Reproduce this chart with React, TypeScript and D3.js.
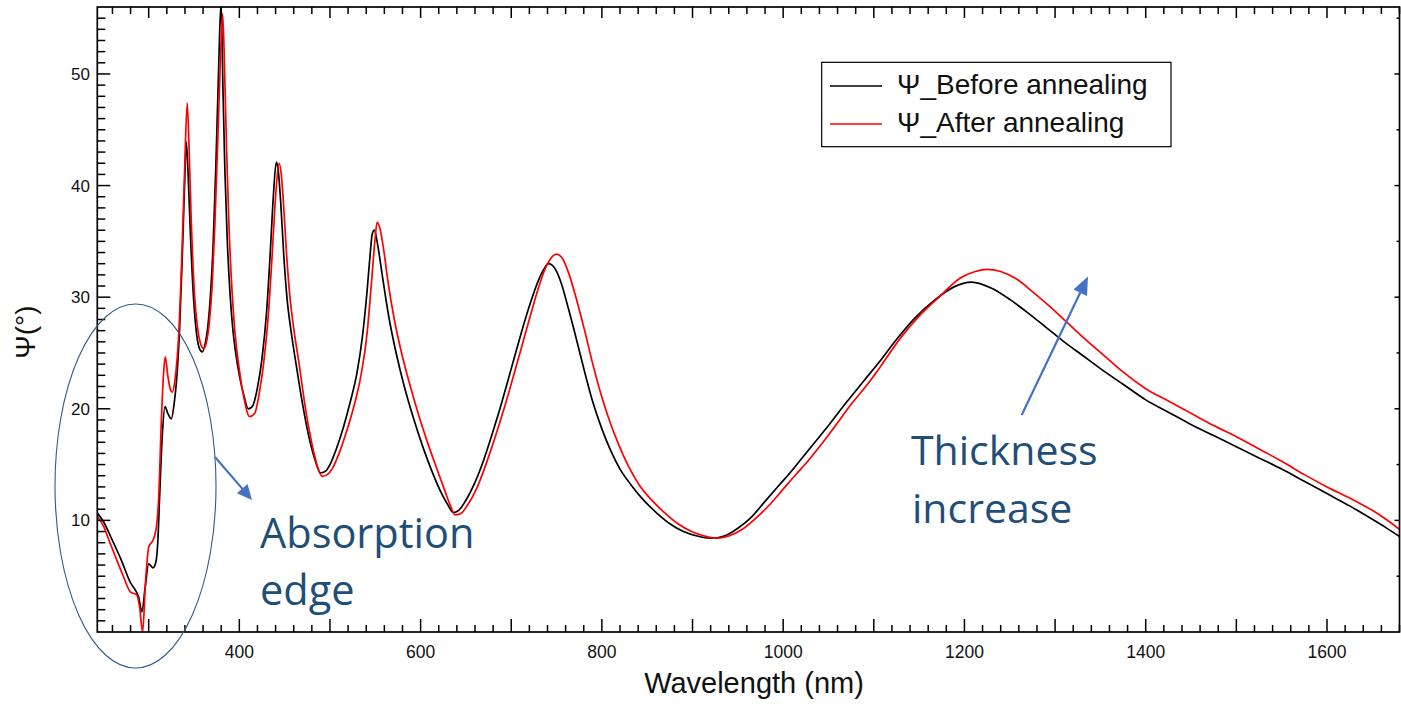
import React from 'react';
import * as d3 from 'd3';

const W = 1401;
const H = 706;

// Ψ (degrees) versus wavelength (nm), film before annealing
const beforeWavelength = [
  243, 250, 260, 270, 280, 285, 289, 292.5, 296, 300, 304.7, 308, 310, 312, 315, 318, 321, 325, 328, 331,
  334, 337, 339.5, 341.5, 343.5, 346, 349.5, 353, 356, 359, 362, 365, 368, 371, 374, 377, 379.8, 382, 384,
  386.5, 390, 393, 396, 400, 405, 410, 415, 420, 425, 430, 434, 437.5, 440.8, 443, 445.5, 449, 452.5, 457,
  463, 470, 477, 484, 489.5, 495, 500, 507, 515, 522, 530, 536, 541, 544.5, 546.5, 549, 553, 558, 565, 573,
  582, 592, 602, 612, 622, 630, 636, 642, 650, 660, 670, 680, 690, 700, 710, 720, 730, 736, 741, 748, 755,
  763, 772, 781, 790, 800, 810, 820, 832, 845, 860, 875, 890, 905, 920, 935, 950, 965, 980, 995, 1010, 1020,
  1035, 1050, 1070, 1090, 1108, 1125, 1145, 1168, 1188, 1208, 1230, 1250, 1270, 1290, 1310, 1330, 1350,
  1375, 1400, 1425, 1450, 1475, 1500, 1525, 1550, 1575, 1600, 1625, 1650, 1665, 1680,
];
const beforePsi = [
  10.7, 9.9, 8.2, 6.4, 4.4, 3.8, 3.1, 1.8, 3.9, 6.1, 5.75, 6.3, 8.0, 12.0, 17.6, 20.2, 19.6, 19.1, 20.4, 22.8,
  27.0, 33.5, 39.8, 43.9, 41.0, 35.7, 29.9, 26.6, 25.4, 25.1, 25.7, 27.2, 30.0, 34.5, 41.5, 50.0, 56.4, 48.5, 41.5,
  35.5, 30.0, 27.0, 25.0, 23.0, 21.2, 20.0, 20.3, 21.9, 24.5, 28.6, 33.8, 39.0, 42.1, 41.3, 38.7, 33.8, 30.0, 27.0,
  23.8, 20.3, 17.4, 15.3, 14.25, 14.4, 15.0, 16.4, 18.4, 20.5, 23.3, 26.6, 30.6, 34.0, 35.6, 36.0, 34.5, 31.8, 28.2, 25.0,
  22.0, 19.2, 16.7, 14.5, 12.6, 11.4, 10.7, 10.9, 11.8, 13.4, 15.5, 18.0, 20.7, 23.6, 26.5, 29.2, 31.5, 32.5, 33.0, 32.6, 31.3,
  29.0, 26.2, 23.3, 20.6, 18.2, 16.2, 14.6, 13.2, 11.9, 10.7, 9.7, 9.0, 8.6, 8.4, 8.6, 9.3, 10.3, 11.7, 13.1, 14.5, 15.5,
  17.0, 18.5, 20.6, 22.6, 24.4, 26.2, 28.1, 29.8, 30.9, 31.35, 30.8, 29.8, 28.6, 27.3, 26.0, 24.8, 23.6,
  22.2, 20.8, 19.7, 18.6, 17.6, 16.6, 15.6, 14.6, 13.5, 12.4, 11.3, 10.1, 9.35, 8.55,
];

// Ψ (degrees) versus wavelength (nm), film after annealing
const afterWavelength = [
  243, 250, 257, 265, 272, 279.7, 287, 290, 293.3, 296.5, 300, 305.4, 309, 311, 314, 316.5, 318.3, 321, 324, 326,
  329, 333, 336.5, 339.5, 342.5, 344.5, 347, 350.5, 354, 357, 360.6, 363.5, 367, 370, 373, 376, 379, 381.6, 384,
  386, 388.5, 392, 395, 400, 405, 411.4, 417, 422, 427, 432, 436, 440, 443.8, 446, 448.5, 452, 455.5, 460, 466,
  473, 480, 486, 491.3, 497, 503, 510, 518, 526, 534, 541, 546, 549.5, 552, 555, 559, 564, 571, 579, 588, 598,
  608, 618, 627, 633, 638, 644, 652, 662, 672, 682, 692, 702, 712, 722, 731, 740, 750, 757, 764, 772, 781, 790,
  799, 809, 819, 829, 841, 854, 869, 884, 899, 913, 926.5, 940, 955, 970, 985, 1000, 1015, 1025, 1040, 1055,
  1075, 1095, 1107.5, 1130, 1150, 1172, 1195, 1212, 1225, 1240, 1258, 1275, 1295, 1315, 1335, 1355, 1375,
  1400, 1425, 1450, 1475, 1500, 1525, 1550, 1575, 1600, 1625, 1650, 1665, 1680,
];
const afterPsi = [
  10.4, 9.5, 8.05, 6.4, 5.0, 3.6, 3.3, 2.2, 0.0, 4.5, 7.6, 8.35, 9.7, 12.0, 19.0, 23.3, 24.65, 23.0, 21.7, 21.5,
  22.6, 26.5, 33.5, 41.0, 47.4, 43.5, 36.8, 30.3, 27.2, 25.9, 25.4, 25.9, 27.8, 31.0, 36.5, 43.5, 51.0, 55.4, 49.5,
  43.0, 36.5, 30.5, 27.0, 23.5, 21.0, 19.3, 19.6, 21.4, 24.2, 28.4, 33.5, 39.0, 42.0, 41.2, 38.7, 34.0, 30.3, 27.2, 24.0,
  20.0, 16.9, 14.9, 13.95, 14.1, 14.7, 16.0, 17.9, 20.1, 22.9, 26.8, 31.5, 35.0, 36.7, 36.2, 34.4, 31.4, 28.0, 25.0, 22.2, 19.4,
  16.9, 14.6, 12.6, 11.3, 10.5, 10.6, 11.4, 12.9, 15.0, 17.4, 20.0, 22.8, 25.7, 28.6, 31.1, 33.0, 33.85, 33.4, 32.0, 29.8, 27.0, 24.0,
  21.3, 18.8, 16.7, 14.9, 13.2, 11.9, 10.7, 9.7, 9.0, 8.6, 8.4, 8.6, 9.2, 10.2, 11.4, 12.8, 14.2, 15.1, 16.6, 18.2,
  20.4, 22.4, 23.8, 26.4, 28.3, 30.0, 31.7, 32.3, 32.5, 32.3, 31.6, 30.5, 29.1, 27.6, 26.1, 24.7, 23.3,
  21.8, 20.7, 19.6, 18.5, 17.5, 16.4, 15.3, 14.1, 13.0, 12.0, 10.9, 10.1, 9.2,
];

const seriesNames = ['\u03A8_Before annealing', '\u03A8_After annealing'];
const seriesColors = ['#000000', '#ff0000'];

const xTickLabels = [400, 600, 800, 1000, 1200, 1400, 1600];
const yTickLabels = [10, 20, 30, 40, 50];

const xTitle = 'Wavelength (nm)';
const yTitle = '\u03A8(\u00B0)';

const ARIAL = "'Liberation Sans', Arial, sans-serif";
const NOTE_FONT = "'Open Sans', 'Noto Sans', sans-serif";
const NOTE_COLOR = '#1f4e79';
const ARROW_COLOR = '#4472c4';

type Pt = [number, number];

function arrowParts(from: Pt, to: Pt, headLen: number, headWidth: number) {
  const dx = to[0] - from[0];
  const dy = to[1] - from[1];
  const len = Math.hypot(dx, dy);
  const ux = dx / len;
  const uy = dy / len;
  const bx = to[0] - ux * headLen;
  const by = to[1] - uy * headLen;
  const px = -uy * (headWidth / 2);
  const py = ux * (headWidth / 2);
  return {
    shaft: [from, [bx + ux * 1, by + uy * 1]] as Pt[],
    head: `${to[0]},${to[1]} ${bx + px},${by + py} ${bx - px},${by - py}`,
  };
}

export default function App() {
  const left = 97.3;
  const right = 1399.5;
  const top = 7;
  const bottom = 632;

  const x = d3.scaleLinear().domain([243.3, 1680]).range([left, right]);
  const y = d3.scaleLinear().domain([0, 56]).range([bottom, top]);

  const line = d3
    .line<Pt>()
    .x((d) => x(d[0]))
    .y((d) => y(d[1]))
    .curve(d3.curveMonotoneX);

  const series: Pt[][] = [
    beforeWavelength.map((w, i) => [w, beforePsi[i]] as Pt),
    afterWavelength.map((w, i) => [w, afterPsi[i]] as Pt),
  ];

  const xTicks = d3.range(260, 1681, 20);
  const yLeftTicks = d3.range(1, 56, 1);
  const yRightTicks = d3.range(5, 56, 5);

  const arrow1 = arrowParts([215, 457], [252, 500], 15, 14);
  const arrow2 = arrowParts([1021.7, 415], [1088, 276.5], 18, 15);

  return (
    <svg
      width={W}
      height={H}
      viewBox={`0 0 ${W} ${H}`}
      style={{ position: 'absolute', left: 0, top: 0, background: '#ffffff' }}
    >
      <defs>
        <clipPath id="plot-clip">
          <rect x={left} y={top} width={right - left} height={bottom - top} />
        </clipPath>
      </defs>
      <rect x={0} y={0} width={W} height={H} fill="#ffffff" />

      {/* data curves */}
      <g clipPath="url(#plot-clip)">
        {series.map((s, i) => (
          <path
            key={i}
            d={line(s) || ''}
            fill="none"
            stroke={seriesColors[i]}
            strokeWidth={1.7}
            strokeLinejoin="round"
          />
        ))}
      </g>

      {/* frame */}
      <rect
        x={left}
        y={top}
        width={right - left}
        height={bottom - top}
        fill="none"
        stroke="#000"
        strokeWidth={1.7}
      />

      {/* bottom and top ticks */}
      {xTicks.map((v) => {
        const major = v % 100 === 0;
        return (
          <g key={`xt${v}`} stroke="#000" strokeWidth={1.5}>
            <line x1={x(v)} x2={x(v)} y1={bottom} y2={bottom - (major ? 13 : 7)} />
            <line x1={x(v)} x2={x(v)} y1={top} y2={top + (major ? 11 : 7)} />
          </g>
        );
      })}

      {/* left ticks */}
      {yLeftTicks.map((v) => {
        const major = v % 10 === 0;
        return (
          <line
            key={`yl${v}`}
            x1={left}
            x2={left + (major ? 13 : 8)}
            y1={y(v)}
            y2={y(v)}
            stroke="#000"
            strokeWidth={1.5}
          />
        );
      })}

      {/* right ticks */}
      {yRightTicks.map((v) => {
        const major = v % 10 === 0;
        return (
          <line
            key={`yr${v}`}
            x1={right}
            x2={right - (major ? 5 : 3)}
            y1={y(v)}
            y2={y(v)}
            stroke="#000"
            strokeWidth={1.5}
          />
        );
      })}

      {/* tick labels */}
      {xTickLabels.map((v) => (
        <text
          key={`xl${v}`}
          x={x(v)}
          y={658}
          textAnchor="middle"
          fontFamily={ARIAL}
          fontSize={17.5}
          fill="#111"
        >
          {v}
        </text>
      ))}
      {yTickLabels.map((v) => (
        <text
          key={`ylab${v}`}
          x={90}
          y={y(v) + 6}
          textAnchor="end"
          fontFamily={ARIAL}
          fontSize={17}
          fill="#111"
        >
          {v}
        </text>
      ))}

      {/* axis titles */}
      <text x={754} y={693} textAnchor="middle" fontFamily={ARIAL} fontSize={29} fill="#111">
        {xTitle}
      </text>
      <text
        transform={`translate(35, 332) rotate(-90)`}
        textAnchor="middle"
        fontFamily={ARIAL}
        fontSize={28}
        fill="#111"
      >
        {yTitle}
      </text>

      {/* legend */}
      <g>
        <rect x={821.7} y={62.3} width={349.3} height={84.4} fill="#fff" stroke="#000" strokeWidth={1.2} />
        {seriesNames.map((name, i) => (
          <g key={name}>
            <line
              x1={830}
              x2={882}
              y1={86 + i * 38}
              y2={86 + i * 38}
              stroke={seriesColors[i]}
              strokeWidth={1.6}
            />
            <text
              x={897}
              y={94 + i * 38.4}
              fontFamily={ARIAL}
              fontSize={28}
              fill="#111"
            >
              {name}
            </text>
          </g>
        ))}
      </g>

      {/* absorption edge marker */}
      <ellipse cx={135.5} cy={486} rx={80.5} ry={182} fill="none" stroke="#2f5a88" strokeWidth={1.1} />
      <line
        x1={arrow1.shaft[0][0]}
        y1={arrow1.shaft[0][1]}
        x2={arrow1.shaft[1][0]}
        y2={arrow1.shaft[1][1]}
        stroke={ARROW_COLOR}
        strokeWidth={2.2}
      />
      <polygon points={arrow1.head} fill={ARROW_COLOR} />
      <text fontFamily={NOTE_FONT} fontSize={41.5} fill={NOTE_COLOR}>
        <tspan x={260} y={548}>Absorption</tspan>
        <tspan x={260} y={605}>edge</tspan>
      </text>

      {/* thickness increase marker */}
      <line
        x1={arrow2.shaft[0][0]}
        y1={arrow2.shaft[0][1]}
        x2={arrow2.shaft[1][0]}
        y2={arrow2.shaft[1][1]}
        stroke={ARROW_COLOR}
        strokeWidth={2.2}
      />
      <polygon points={arrow2.head} fill={ARROW_COLOR} />
      <text fontFamily={NOTE_FONT} fontSize={41} fill={NOTE_COLOR}>
        <tspan x={911} y={465}>Thickness</tspan>
        <tspan x={912} y={523}>increase</tspan>
      </text>
    </svg>
  );
}
